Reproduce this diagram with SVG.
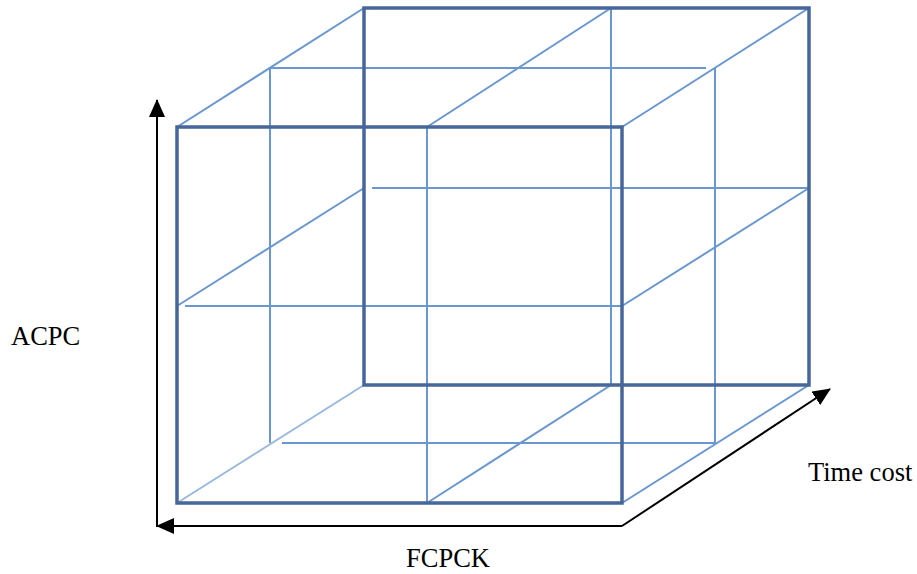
<svg xmlns="http://www.w3.org/2000/svg" width="917" height="574" viewBox="0 0 917 574">
  <style>
    .edge { stroke: #47679a; stroke-width: 3.5; fill: none; stroke-linecap: square; }
    .grid { stroke: #6a97cf; stroke-width: 2; fill: none; }
    .faint { stroke: #9bb8dd; stroke-width: 2; fill: none; }
    .axis { stroke: #000; stroke-width: 2; fill: none; }
    .label { font-family: "Liberation Serif", "Times New Roman", serif; font-size: 26.5px; fill: #000; }
  </style>
  <defs>
    <marker id="arrowHead" viewBox="0 0 18 16" refX="17" refY="8" markerWidth="18" markerHeight="16" orient="auto" markerUnits="userSpaceOnUse">
      <path d="M0,0 L18,8 L0,16 Z" fill="#000"/>
    </marker>
  </defs>

  <!-- inner grid lines: depth-middle plane, face middles and depth diagonals -->
  <g id="grid">
    <!-- middle plane -->
    <line class="grid" x1="270" y1="68" x2="706" y2="68"/>
    <line class="grid" x1="270" y1="68" x2="270" y2="443"/>
    <line class="grid" x1="715" y1="68" x2="715" y2="443"/>
    <line class="grid" x1="282" y1="443" x2="715" y2="443"/>
    <!-- front face middles -->
    <line class="grid" x1="427" y1="127" x2="427" y2="503"/>
    <line class="grid" x1="185" y1="306" x2="622" y2="306"/>
    <!-- back face middles -->
    <line class="grid" x1="611" y1="8" x2="611" y2="385"/>
    <line class="grid" x1="372" y1="188" x2="809" y2="188"/>
    <!-- depth diagonals -->
    <line class="grid" x1="177" y1="127" x2="364" y2="8"/>
    <line class="grid" x1="622" y1="127" x2="809" y2="8"/>
    <line class="grid" x1="622" y1="503" x2="809" y2="385"/>
    <line class="faint" x1="177" y1="503" x2="364" y2="385"/>
    <line class="grid" x1="177" y1="306" x2="364" y2="188"/>
    <line class="grid" x1="427" y1="127" x2="611" y2="8"/>
    <line class="grid" x1="622" y1="306" x2="809" y2="188"/>
    <line class="grid" x1="427" y1="503" x2="611" y2="385"/>
  </g>

  <!-- back square -->
  <g id="back-face">
    <rect class="edge" x="364" y="8" width="445" height="377"/>
  </g>

  <!-- front square -->
  <g id="front-face">
    <rect class="edge" x="177" y="127" width="445" height="376"/>
  </g>

  <!-- axes -->
  <g id="connectors">
    <line class="axis" x1="157" y1="527" x2="157" y2="100" marker-end="url(#arrowHead)"/>
    <polyline class="axis" points="622,526 157,526" marker-end="url(#arrowHead)"/>
    <line class="axis" x1="622" y1="526" x2="830" y2="389" marker-end="url(#arrowHead)"/>
  </g>

  <g id="labels">
    <text class="label" x="11" y="345">ACPC</text>
    <text class="label" x="406" y="567">FCPCK</text>
    <text class="label" x="808" y="481">Time cost</text>
  </g>
</svg>
